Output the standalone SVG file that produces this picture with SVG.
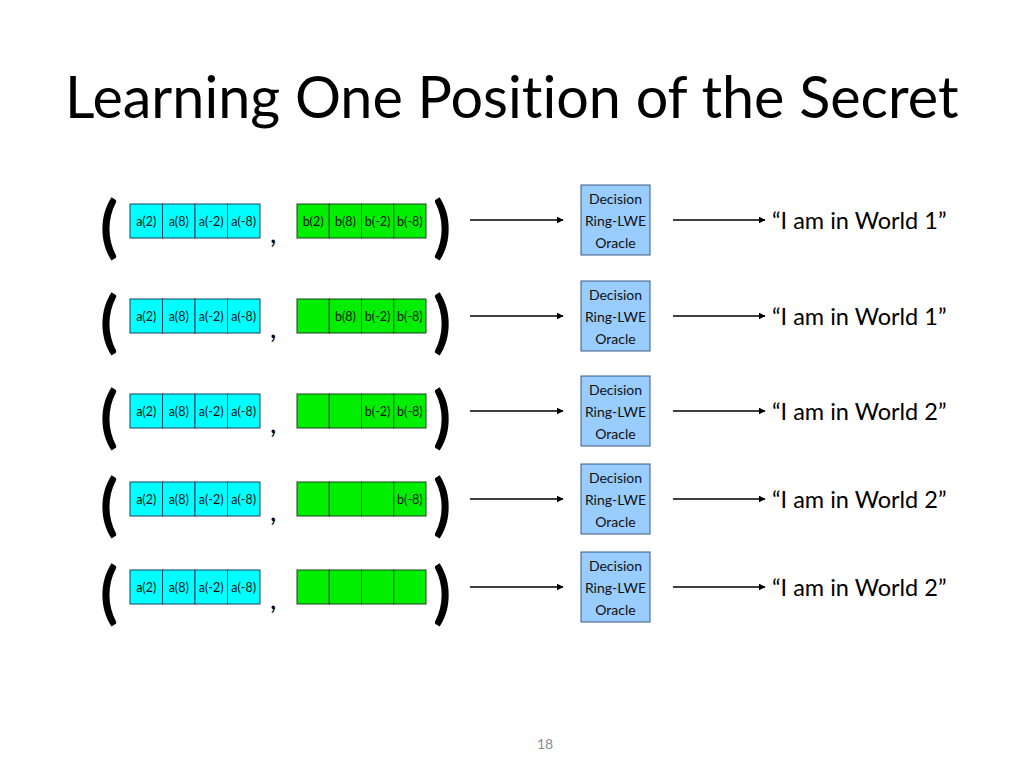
<svg xmlns="http://www.w3.org/2000/svg" width="1024" height="768" viewBox="0 0 1024 768">
<style>
  text { font-family: Lato, "Open Sans", "Liberation Sans", sans-serif; fill: #000; font-variant-ligatures: none; }
  .title { font-size: 57.5px; }
  .cell-a { fill: #00ffff; stroke: #1f3f5f; stroke-width: 1; }
  .cell-b { fill: #00ee00; stroke: #1f3f1f; stroke-width: 1; }
  .cl { font-size: 12.5px; text-anchor: middle; fill: #111; }
  .paren { font-size: 66px; font-weight: bold; }
  .comma { font-size: 28px; }
  .oracle { fill: #99ccff; stroke: #3a5a80; stroke-width: 1; }
  .ol { font-size: 14px; text-anchor: middle; fill: #111; }
  .res { font-size: 23.5px; }
  .conn { stroke: #000; stroke-width: 1.3; fill: none; marker-end: url(#ah); }
  .pg { font-size: 14px; fill: #8c8c8c; text-anchor: middle; }
</style>
<defs>
  <marker id="ah" viewBox="0 0 10 10" refX="9" refY="5" markerWidth="7" markerHeight="7" markerUnits="userSpaceOnUse" orient="auto">
    <path d="M0,0 L10,5 L0,10 z" fill="#000"/>
  </marker>
  <g id="avec">
    <rect class="cell-a" x="130" y="0" width="32.5" height="34"/>
    <rect class="cell-a" x="162.5" y="0" width="32.5" height="34"/>
    <rect class="cell-a" x="195" y="0" width="32.5" height="34"/>
    <rect class="cell-a" x="227.5" y="0" width="32.5" height="34"/>
    <text class="cl" x="146.2" y="21.5">a(2)</text>
    <text class="cl" x="178.7" y="21.5">a(8)</text>
    <text class="cl" x="211.2" y="21.5">a(-2)</text>
    <text class="cl" x="243.7" y="21.5">a(-8)</text>
  </g>
  <g id="bcells">
    <rect class="cell-b" x="297" y="0" width="32.25" height="34"/>
    <rect class="cell-b" x="329.25" y="0" width="32.25" height="34"/>
    <rect class="cell-b" x="361.5" y="0" width="32.25" height="34"/>
    <rect class="cell-b" x="393.75" y="0" width="32.25" height="34"/>
  </g>
  <g id="frame">
    <text class="paren" x="100" y="46">(</text>
    <text class="comma" x="270" y="39">,</text>
    <text class="paren" x="433" y="46">)</text>
  </g>
  <g id="oracle">
    <rect class="oracle" x="581" y="0" width="69" height="70"/>
    <text class="ol" x="615.5" y="19">Decision</text>
    <text class="ol" x="615.5" y="41">Ring-LWE</text>
    <text class="ol" x="615.5" y="63">Oracle</text>
  </g>
</defs>

<text class="title" x="65" y="118">Learning One Position of the Secret</text>

<g id="row1" transform="translate(0,204)">
  <use href="#frame"/>
  <use href="#avec"/>
  <use href="#bcells"/>
  <text class="cl" x="313.1" y="21.5">b(2)</text>
  <text class="cl" x="345.4" y="21.5">b(8)</text>
  <text class="cl" x="377.6" y="21.5">b(-2)</text>
  <text class="cl" x="409.9" y="21.5">b(-8)</text>
</g>
<g id="row2" transform="translate(0,299)">
  <use href="#frame"/>
  <use href="#avec"/>
  <use href="#bcells"/>
  <text class="cl" x="345.4" y="21.5">b(8)</text>
  <text class="cl" x="377.6" y="21.5">b(-2)</text>
  <text class="cl" x="409.9" y="21.5">b(-8)</text>
</g>
<g id="row3" transform="translate(0,394)">
  <use href="#frame"/>
  <use href="#avec"/>
  <use href="#bcells"/>
  <text class="cl" x="377.6" y="21.5">b(-2)</text>
  <text class="cl" x="409.9" y="21.5">b(-8)</text>
</g>
<g id="row4" transform="translate(0,482)">
  <use href="#frame"/>
  <use href="#avec"/>
  <use href="#bcells"/>
  <text class="cl" x="409.9" y="21.5">b(-8)</text>
</g>
<g id="row5" transform="translate(0,570)">
  <use href="#frame"/>
  <use href="#avec"/>
  <use href="#bcells"/>
</g>

<g id="oracle1" transform="translate(0,185)"><use href="#oracle"/></g>
<g id="oracle2" transform="translate(0,281)"><use href="#oracle"/></g>
<g id="oracle3" transform="translate(0,376)"><use href="#oracle"/></g>
<g id="oracle4" transform="translate(0,464)"><use href="#oracle"/></g>
<g id="oracle5" transform="translate(0,552)"><use href="#oracle"/></g>

<g id="connectors">
  <line class="conn" x1="470" y1="220" x2="563" y2="220"/>
  <line class="conn" x1="673" y1="220" x2="765" y2="220"/>
  <line class="conn" x1="470" y1="316" x2="563" y2="316"/>
  <line class="conn" x1="673" y1="316" x2="765" y2="316"/>
  <line class="conn" x1="470" y1="411" x2="563" y2="411"/>
  <line class="conn" x1="673" y1="411" x2="765" y2="411"/>
  <line class="conn" x1="470" y1="499" x2="563" y2="499"/>
  <line class="conn" x1="673" y1="499" x2="765" y2="499"/>
  <line class="conn" x1="470" y1="587" x2="563" y2="587"/>
  <line class="conn" x1="673" y1="587" x2="765" y2="587"/>
</g>

<g id="results">
  <text class="res" x="772" y="229">“I am in World 1”</text>
  <text class="res" x="772" y="325">“I am in World 1”</text>
  <text class="res" x="772" y="420">“I am in World 2”</text>
  <text class="res" x="772" y="508">“I am in World 2”</text>
  <text class="res" x="772" y="596">“I am in World 2”</text>
</g>

<text class="pg" x="545" y="749">18</text>
</svg>
